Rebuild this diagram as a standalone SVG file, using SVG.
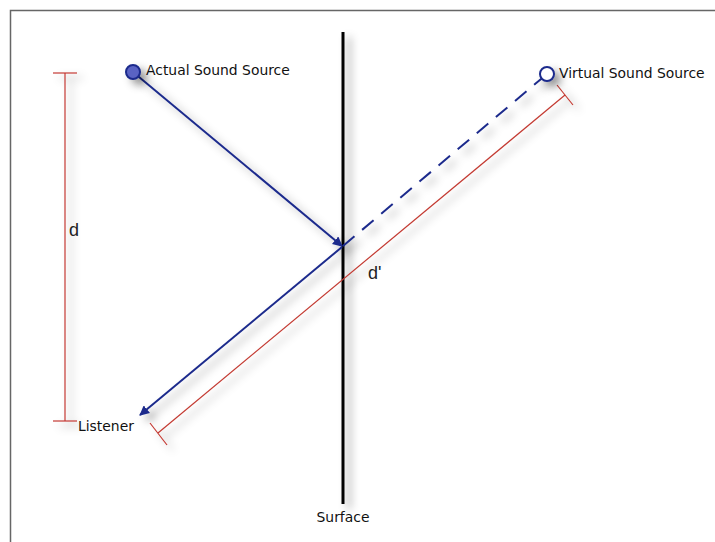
<svg xmlns="http://www.w3.org/2000/svg" width="715" height="542" viewBox="0 0 715 542">
<style>
.lbl{font-family:"DejaVu Sans","Liberation Sans",sans-serif;font-size:13.9px;fill:#111}
.big{font-family:"Liberation Sans",Arial,sans-serif;font-size:18px;fill:#222}
.blue{stroke:#1b2a8c;stroke-width:2;fill:none}
.red{stroke:#c33a32;stroke-width:1.2;fill:none}
</style>
<defs>
<filter id="sh" filterUnits="userSpaceOnUse" x="0" y="0" width="715" height="542">
<feDropShadow dx="6" dy="5" stdDeviation="4" flood-color="#000" flood-opacity="0.4"/>
</filter>
<marker id="ah" viewBox="0 0 10 10" refX="9" refY="5" markerWidth="5" markerHeight="5" orient="auto" markerUnits="strokeWidth">
<path d="M0,0 L10,5 L0,10 z" fill="#1b2a8c"/>
</marker>
</defs>
<rect width="715" height="542" fill="#fff"/>
<path d="M10.5,542 V10.5 H715" fill="none" stroke="#666" stroke-width="1.5"/>
<g id="surface" filter="url(#sh)">
<line x1="343" y1="32" x2="343" y2="504" stroke="#000" stroke-width="3"/>
</g>
<text class="lbl" x="343" y="522" text-anchor="middle">Surface</text>
<g id="connectors" filter="url(#sh)">
<line class="blue" x1="133" y1="72" x2="342" y2="246" marker-end="url(#ah)"/>
<line class="blue" x1="343" y1="246" x2="547" y2="74" stroke-dasharray="15,10"/>
<line class="blue" x1="342" y1="247" x2="140" y2="415" marker-end="url(#ah)"/>
<g id="dim-d">
<line class="red" x1="65" y1="73" x2="65" y2="421"/>
<line class="red" x1="53" y1="73" x2="77" y2="73"/>
<line class="red" x1="53" y1="421" x2="77" y2="421"/>
</g>
<g id="dim-dprime">
<line class="red" x1="158" y1="433" x2="565" y2="95"/>
<line class="red" x1="150" y1="423" x2="167" y2="445"/>
<line class="red" x1="557" y1="85" x2="573" y2="105"/>
</g>
</g>
<g id="actual-source">
<circle cx="133" cy="72" r="7" fill="#5a63c4" stroke="#1b2a8c" stroke-width="2" filter="url(#sh)"/>
<text class="lbl" x="146" y="75">Actual Sound Source</text>
</g>
<g id="virtual-source">
<circle cx="547" cy="74" r="7" fill="#fff" stroke="#1b2a8c" stroke-width="2" filter="url(#sh)"/>
<text class="lbl" x="559" y="78">Virtual Sound Source</text>
</g>
<g id="listener">
<text class="lbl" x="78" y="431">Listener</text>
</g>
<text class="big" x="69" y="236">d</text>
<text class="big" x="368" y="279">d'</text>
</svg>
